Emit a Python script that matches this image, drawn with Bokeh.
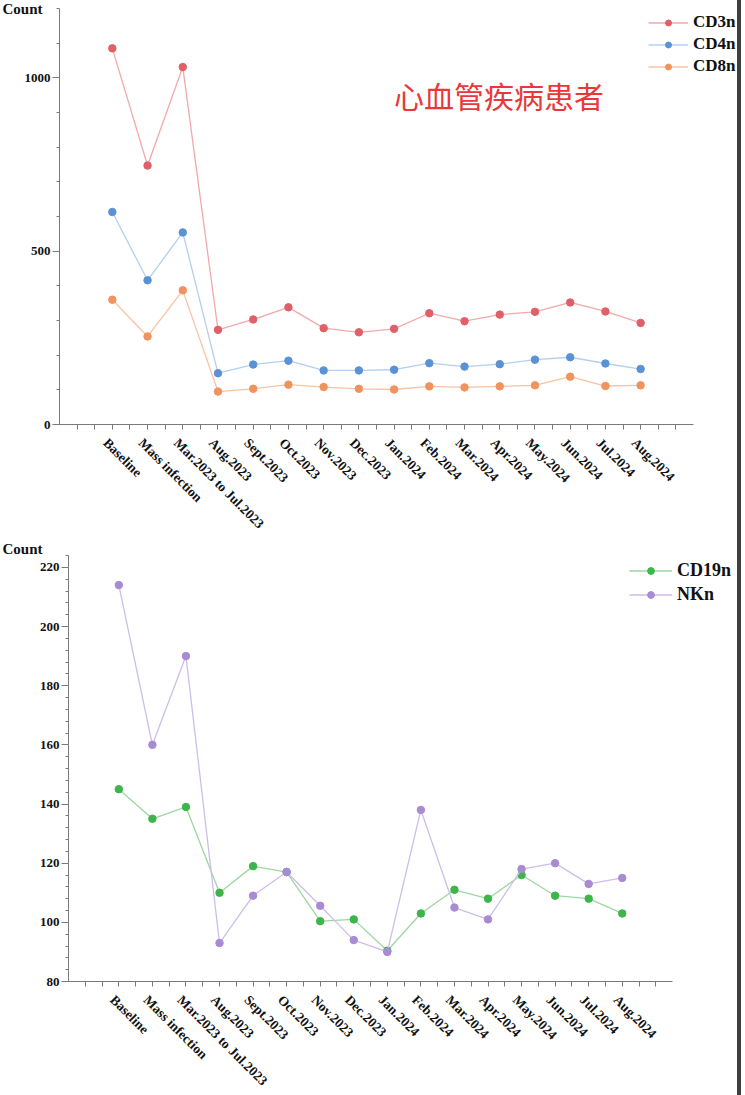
from bokeh.plotting import figure
from bokeh.models import (Range1d, FixedTicker, Label, Legend, LegendItem)
from bokeh.layouts import column, row
from bokeh.embed import file_html
from bokeh.resources import INLINE

categories = ["Baseline", "Mass infection", "Mar.2023 to Jul.2023", "Aug.2023",
              "Sept.2023", "Oct.2023", "Nov.2023", "Dec.2023", "Jan.2024",
              "Feb.2024", "Mar.2024", "Apr.2024", "May.2024", "Jun.2024",
              "Jul.2024", "Aug.2024"]

cd3n = [1085, 747, 1031, 273, 303, 338, 278, 266, 276, 321, 298, 317, 325, 352, 326, 293]
cd4n = [613, 416, 554, 148, 173, 184, 156, 156, 158, 177, 167, 174, 187, 194, 176, 160]
cd8n = [360, 254, 387, 95, 103, 115, 108, 103, 101, 110, 107, 110, 113, 138, 111, 113]

cd19n = [145, 135, 139, 110, 119, 117, 100.4, 101, 90.4, 103, 111, 108, 116, 109, 108, 103]
nkn = [214, 160, 190, 93, 109, 117, 105.6, 94, 90, 138, 105, 101, 118, 120, 113, 115]

top_yticks = [0, 500, 1000]
bottom_yticks = [80, 100, 120, 140, 160, 180, 200, 220]
title_cn = "心血管疾病患者"
y_title = "Count"

SERIF = "Liberation Serif"
xs = list(range(len(categories)))
LABEL_SHIFT = 0.19
label_ticks = [i - LABEL_SHIFT for i in xs]
mark_ticks = [k * 0.5 for k in range(-2, 33)]
overrides = {t: categories[i] for i, t in enumerate(label_ticks)}


def style(p, xb, yb):
    p.xgrid.visible = False
    p.ygrid.visible = False
    p.outline_line_color = None
    p.background_fill_color = "white"
    p.border_fill_color = "white"
    for ax in (p.xaxis[0], p.yaxis[0]):
        ax.axis_line_color = "#7a7a7a"
        ax.major_tick_line_color = "#7a7a7a"
        ax.minor_tick_line_color = "#7a7a7a"
        ax.major_label_text_font = SERIF
        ax.major_label_text_font_style = "bold"
        ax.major_label_text_color = "#111111"
        ax.major_tick_in = 0
        ax.minor_tick_in = 0
    xa = p.xaxis[0]
    xa.ticker = FixedTicker(ticks=label_ticks, minor_ticks=mark_ticks)
    xa.major_label_overrides = overrides
    xa.major_label_orientation = -0.785398
    xa.major_label_text_font_size = "13.5px"
    xa.major_tick_out = 0
    xa.minor_tick_out = 5
    xa.major_label_standoff = 11
    xa.bounds = xb
    ya = p.yaxis[0]
    ya.major_label_text_font_size = "13px"
    ya.major_tick_out = 7
    ya.minor_tick_out = 3
    ya.major_label_standoff = 2
    ya.bounds = yb


def add_series(p, ys, line_color, marker_color, label, items):
    r1 = p.line(xs, ys, line_color=line_color, line_width=1.3)
    r2 = p.scatter(xs, ys, size=7.5, fill_color=marker_color, line_color=marker_color)
    items.append(LegendItem(label=label, renderers=[r1, r2]))


def count_title(p, offset, standoff):
    p.title.text = y_title
    p.title.align = "left"
    p.title.offset = offset
    p.title.standoff = standoff
    p.title.text_font = SERIF
    p.title.text_font_style = "bold"
    p.title.text_font_size = "15px"
    p.title.text_color = "#111111"


# ---------------- top chart ----------------
p1 = figure(frame_width=678, frame_height=416, width=737, height=536,
            x_range=Range1d(-1.5, -1.5 + 678 / 35.22), y_range=Range1d(0, 1200),
            output_backend="svg", toolbar_location=None,
            min_border_left=59, min_border_right=0, min_border_top=8, min_border_bottom=20)
style(p1, (-1.5, 16.5), (0, 1200))
p1.yaxis[0].ticker = FixedTicker(ticks=top_yticks, minor_ticks=list(range(0, 1201, 100)))
count_title(p1, -57, -17)

items1 = []
add_series(p1, cd3n, "#f2a9aa", "#e0606a", "CD3n", items1)
add_series(p1, cd4n, "#b3cff0", "#5b92d6", "CD4n", items1)
add_series(p1, cd8n, "#f8c3a3", "#f0935e", "CD8n", items1)

leg1 = Legend(items=items1, location=(589, 416 - 3 - 66), padding=0, margin=0, spacing=0,
              glyph_width=40, glyph_height=15, label_height=22, label_standoff=5,
              label_text_font=SERIF, label_text_font_style="bold", label_text_font_size="17px",
              label_text_color="#111111", background_fill_alpha=0, border_line_alpha=0)
p1.add_layout(leg1)

p1.add_layout(Label(x=8.0, y=950, text=title_cn, text_font="Noto Sans CJK SC",
                    text_font_size="30px", text_color="#e8383a", text_baseline="middle",
                    text_align="left"))

# ---------------- bottom chart ----------------
p2 = figure(frame_width=669, frame_height=426, width=737, height=560,
            x_range=Range1d(-1.5, -1.5 + 669 / 33.56), y_range=Range1d(80, 224),
            output_backend="svg", toolbar_location=None,
            min_border_left=68, min_border_right=0, min_border_top=16, min_border_bottom=20)
style(p2, (-1.5, 16.5), (80, 224))
p2.yaxis[0].ticker = FixedTicker(ticks=bottom_yticks, minor_ticks=list(range(80, 225, 4)))
count_title(p2, -66, -2)

items2 = []
add_series(p2, cd19n, "#9dd7a0", "#3cb54a", "CD19n", items2)
add_series(p2, nkn, "#cdbde9", "#a98bd4", "NKn", items2)

leg2 = Legend(items=items2, location=(561, 426 - 3 - 48), padding=0, margin=0, spacing=0,
              glyph_width=43, glyph_height=17, label_height=24, label_standoff=5,
              label_text_font=SERIF, label_text_font_style="bold", label_text_font_size="18px",
              label_text_color="#111111", background_fill_alpha=0, border_line_alpha=0)
p2.add_layout(leg2)

layout = column(p1, row(p2), spacing=0, styles={"border-right": "4px solid #3f3f3f"})
open("out.html", "w").write(file_html(layout, INLINE))
